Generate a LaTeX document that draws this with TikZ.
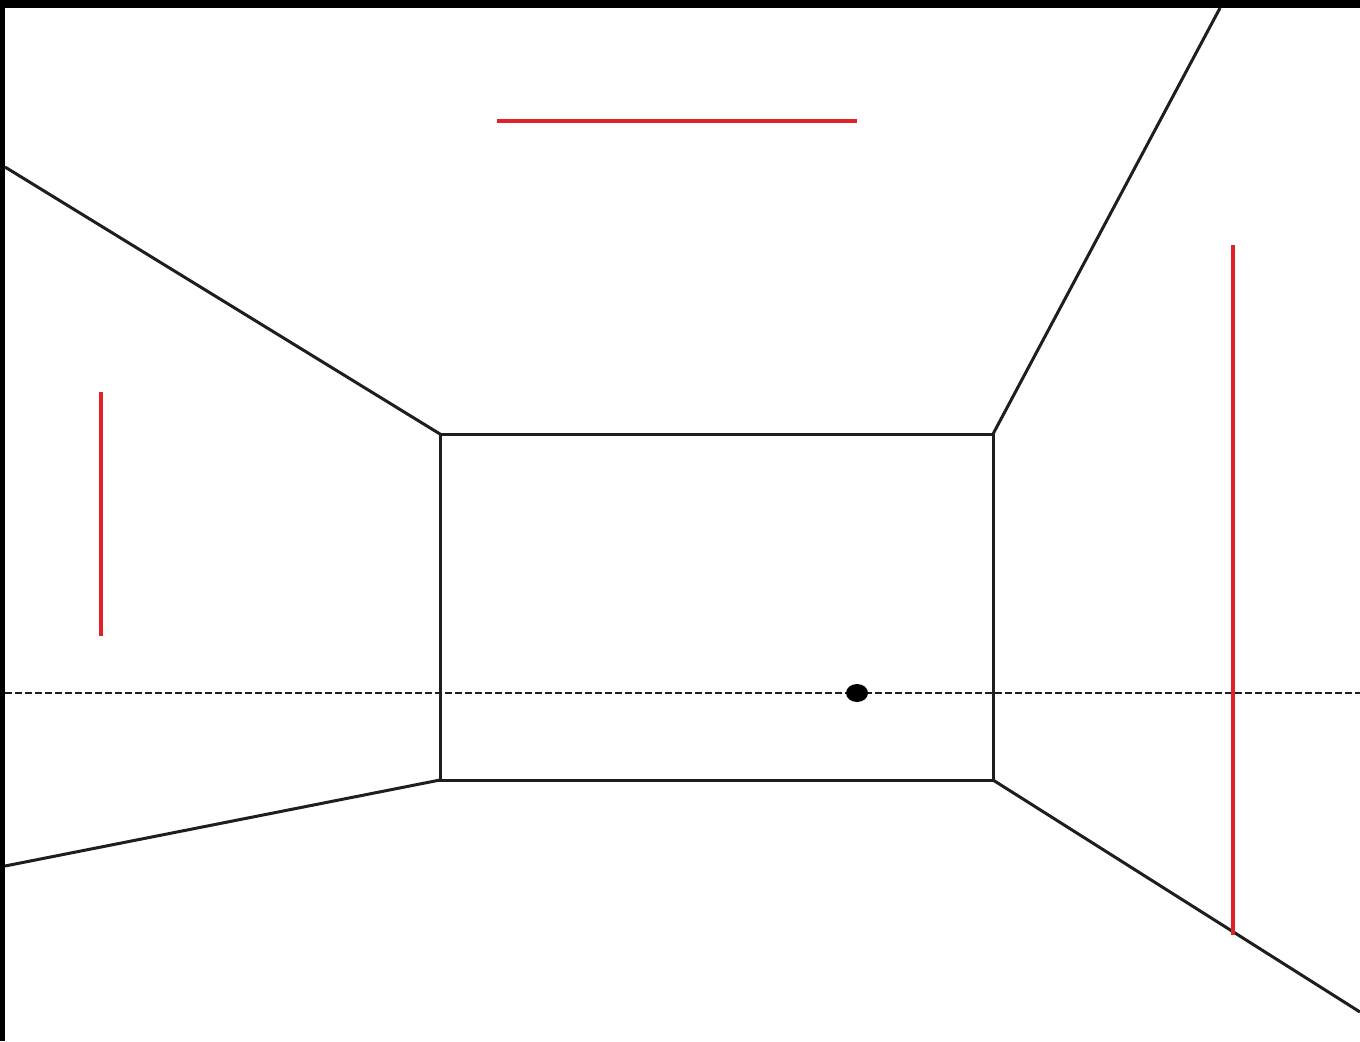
\documentclass[tikz,border=0pt]{standalone}
\definecolor{redline}{RGB}{226,32,40}
\definecolor{ink}{RGB}{30,30,30}
\begin{document}
\begin{tikzpicture}[x=1bp,y=-1bp,
  wall/.style={draw=ink,line width=3bp},
  guide/.style={draw=redline,line width=3.4bp},
  horizon/.style={draw=ink,line width=2.2bp,dash pattern=on 6.5bp off 3.5bp}]
\useasboundingbox (0,0) rectangle (1360,1041);
\fill[white] (0,0) rectangle (1360,1041);
\fill[black] (0,0) rectangle (1360,8);
\fill[black] (0,0) rectangle (5,1041);
% corners of back wall
\coordinate (tl) at (440,434);
\coordinate (tr) at (993,434);
\coordinate (br) at (993,780);
\coordinate (bl) at (440,780);
% outer ends
\coordinate (otl) at (5,167);
\coordinate (otr) at (1220,8);
\coordinate (obl) at (5,866);
\coordinate (obr) at (1360,1012);
\coordinate (hl) at (5,693);
\coordinate (hr) at (1360,693);
\draw[horizon] (hl) -- (hr);
\draw[wall] (tl) -- (tr) -- (br) -- (bl) -- cycle;
\draw[wall] (otl) -- (tl);
\draw[wall] (otr) -- (tr);
\draw[wall] (obl) -- (bl);
\draw[wall] (obr) -- (br);
\fill[black] (857,693) ellipse [x radius=11, y radius=9];
% red guides
\coordinate (r1a) at (497,121); \coordinate (r1b) at (857,121);
\coordinate (r2a) at (101,392); \coordinate (r2b) at (101,636);
\coordinate (r3a) at (1233,245); \coordinate (r3b) at (1233,935);
\draw[guide] (r1a) -- (r1b);
\draw[guide] (r2a) -- (r2b);
\draw[guide] (r3a) -- (r3b);
\end{tikzpicture}
\end{document}
